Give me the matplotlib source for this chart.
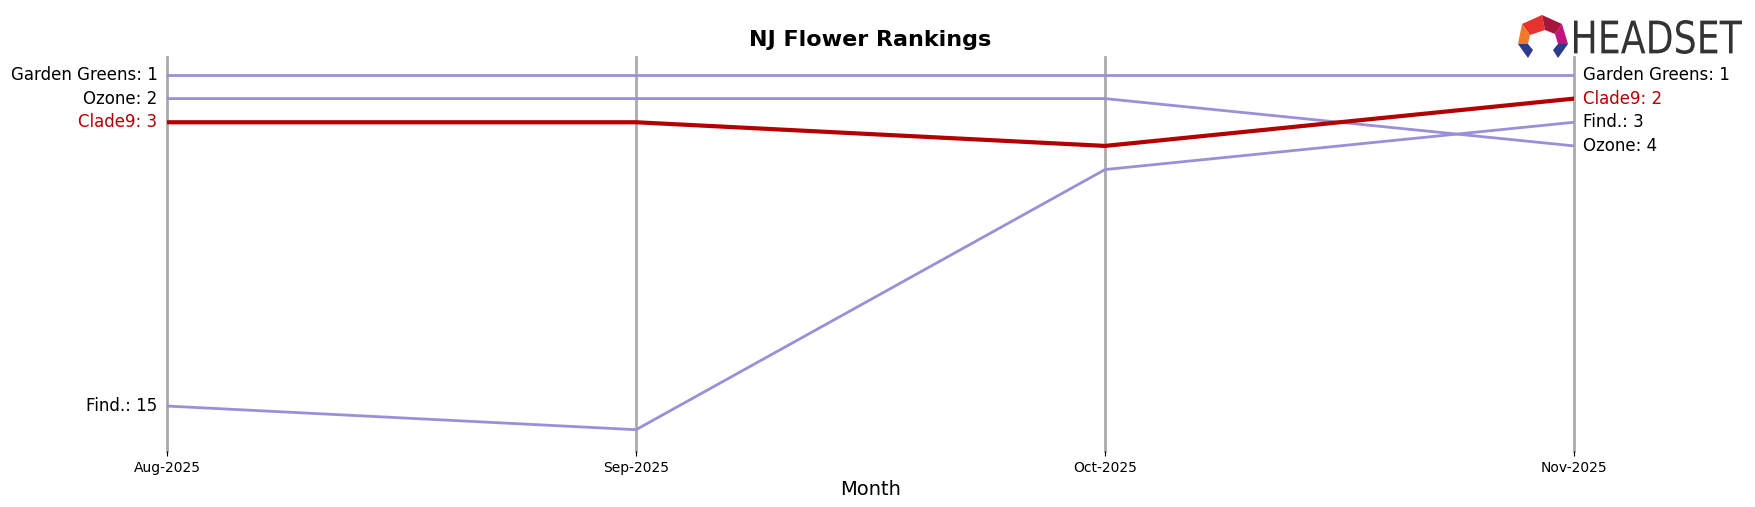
import matplotlib

matplotlib.use("Agg")
import matplotlib.pyplot as plt
from matplotlib.patches import Polygon, PathPatch
from matplotlib.textpath import TextPath
from matplotlib.transforms import Affine2D, IdentityTransform

months = ["Aug-2025", "Sep-2025", "Oct-2025", "Nov-2025"]
brands = ["Garden Greens", "Ozone", "Clade9", "Find."]
ranks = {
    "Garden Greens": [1, 1, 1, 1],
    "Ozone": [2, 2, 2, 4],
    "Clade9": [3, 3, 4, 2],
    "Find.": [15, 16, 5, 3],
}
highlight = "Clade9"

LINE = "#9b8fd8"
RED = "#b30000"

fig = plt.figure(figsize=(17.56, 5.07), dpi=100)
ax = fig.add_axes([0.0951, 0.1105, 0.8013, 0.7771])

x = list(range(len(months)))
for b in brands:
    hl = b == highlight
    c = RED if hl else LINE
    tc = RED if hl else "black"
    ax.plot(x, ranks[b], color=c, linewidth=3 if hl else 2, zorder=3 if hl else 2)
    ax.text(-0.02, ranks[b][0], f"{b}: {ranks[b][0]}", ha="right", va="center",
            fontsize=12, color=tc)
    ax.text(x[-1] + 0.02, ranks[b][-1], f"{b}: {ranks[b][-1]}", ha="left",
            va="center", fontsize=12, color=tc)

for xi in x:
    ax.axvline(xi, color="#aaaaaa", linewidth=2, zorder=1, clip_on=False)

ax.set_xlim(0, len(months) - 1)
ax.set_ylim(16.9, 0.24)
ax.set_xticks(x)
ax.set_xticklabels(months, fontsize=10)
ax.set_yticks([])
ax.set_xlabel("Month", fontsize=14)
for s in ax.spines.values():
    s.set_visible(False)
ax.set_title("NJ Flower Rankings", fontsize=16, fontweight="bold", pad=8)


# HEADSET logo (approximation), coords in pixels from top-left
H = 507


def fx(px):
    return px / 1756


def fy(py):
    return 1 - py / H


icon = [
    ([(1522, 24), (1542, 15), (1545, 30), (1530, 35)], "#e8322e"),
    ([(1542, 15), (1562, 24), (1555, 34), (1545, 30)], "#a5173a"),
    ([(1562, 24), (1568, 44), (1558, 44), (1555, 34)], "#c0157e"),
    ([(1522, 24), (1530, 35), (1528, 44), (1518, 44)], "#f07a2a"),
    ([(1518, 44), (1528, 44), (1533, 50), (1528, 58)], "#2b3a8c"),
    ([(1568, 44), (1558, 44), (1553, 50), (1558, 58)], "#2b3a8c"),
]
for pts, col in icon:
    fig.patches.append(Polygon([(fx(a), fy(b)) for a, b in pts], closed=True,
                               facecolor=col, edgecolor="none",
                               transform=fig.transFigure))

tp = TextPath((0, 0), "HEADSET", size=10, prop={"family": "DejaVu Sans"})
ext = tp.get_extents()
x0, x1, y0, y1 = 1574, 1742, 20, 54  # logo text box
sx = (x1 - x0) / ext.width
sy = (y1 - y0) / ext.height
tr = (Affine2D().translate(-ext.x0, -ext.y0).scale(sx, sy)
      .translate(x0, H - y1))
fig.patches.append(PathPatch(tr.transform_path(tp), facecolor="#333333",
                             edgecolor="none", transform=IdentityTransform()))

fig.savefig("out.png", dpi=100)
